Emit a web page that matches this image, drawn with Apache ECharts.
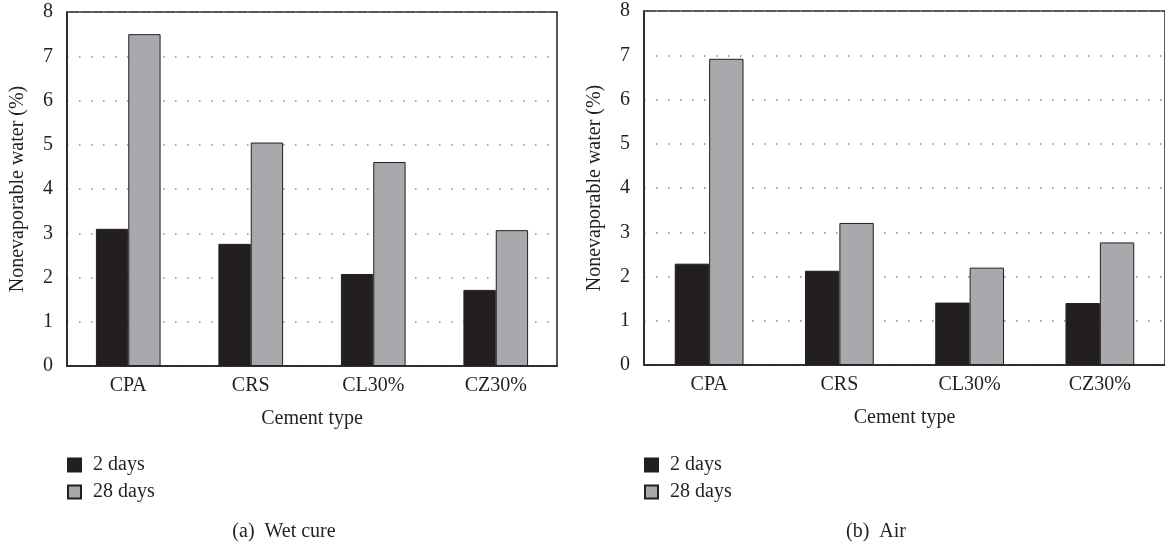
<!DOCTYPE html>
<html>
<head>
<meta charset="utf-8">
<script src="https://cdn.jsdelivr.net/npm/echarts@6/dist/echarts.min.js"></script>
<style>
html,body{margin:0;padding:0;background:#fff;}
#c{width:1165px;height:546px;}
</style>
</head>
<body>
<div id="c"></div>
<script>
var categories = ['CPA', 'CRS', 'CL30%', 'CZ30%'];
var seriesNames = ['2 days', '28 days'];
var wetCure2 = [3.10, 2.76, 2.08, 1.72];
var wetCure28 = [7.50, 5.05, 4.61, 3.07];
var air2 = [2.29, 2.13, 1.41, 1.40];
var air28 = [6.92, 3.21, 2.20, 2.77];
var yTicks = [0, 1, 2, 3, 4, 5, 6, 7, 8];
var captions = ['(a)  Wet cure', '(b)  Air'];
var xTitle = 'Cement type';
var yTitle = 'Nonevaporable water (%)';

var FONT = 'Liberation Serif';
var TXT = '#231f20';
var DARK = '#231f20';
var GRAY = '#a7a9ac';
var FS = 20;

var chart = echarts.init(document.getElementById('c'), null, {renderer: 'canvas'});

function xAx(gi) {
  return {
    type: 'category', gridIndex: gi, data: categories,
    axisLine: {show: true, lineStyle: {color: DARK, width: 1.5}},
    axisTick: {show: false},
    axisLabel: {color: TXT, fontFamily: FONT, fontSize: FS, margin: 10},
    name: xTitle, nameLocation: 'middle', nameGap: 43,
    nameTextStyle: {color: TXT, fontFamily: FONT, fontSize: FS}
  };
}
function yAx(gi) {
  return {
    type: 'value', gridIndex: gi, min: 0, max: 8, interval: 1,
    axisLine: {show: true, lineStyle: {color: DARK, width: 1.5}},
    axisTick: {show: false},
    axisLabel: {color: TXT, fontFamily: FONT, fontSize: FS, margin: 14,
      formatter: function (v) { return yTicks.indexOf(v) >= 0 ? String(v) : ''; }},
    splitLine: {show: true, lineStyle: {color: '#8a8a8a', width: 1.5, type: [1.5, 10.5]}},
    name: yTitle, nameLocation: 'middle', nameGap: 39,
    nameTextStyle: {color: TXT, fontFamily: FONT, fontSize: FS}
  };
}
function bar(name, data, gi, color) {
  return {
    type: 'bar', name: name, data: data,
    xAxisIndex: gi, yAxisIndex: gi,
    barWidth: '26.4%', barGap: '0%',
    itemStyle: {color: color, borderColor: DARK, borderWidth: 1},
    emphasis: {disabled: true}
  };
}
function legend(left) {
  return {
    data: seriesNames, orient: 'vertical', left: left, top: 455, padding: 0,
    icon: 'rect',
    itemWidth: 13, itemHeight: 13, itemGap: 7,
    textStyle: {color: TXT, fontFamily: FONT, fontSize: FS, padding: [0, 0, 0, 7]},
    selectedMode: false
  };
}

chart.setOption({
  animation: false,
  backgroundColor: '#fff',
  grid: [
    {left: 67, top: 12, width: 490, bottom: 180, show: true, borderColor: DARK, borderWidth: 1.5, containLabel: false},
    {left: 644, top: 11, width: 524, bottom: 181, show: true, borderColor: DARK, borderWidth: 1.5, containLabel: false}
  ],
  xAxis: [xAx(0), xAx(1)],
  yAxis: [yAx(0), yAx(1)],
  legend: [legend(67), legend(644)],
  title: [
    {text: captions[0], left: 284, top: 522, textAlign: 'center', padding: 0,
      textStyle: {color: TXT, fontFamily: FONT, fontSize: FS, fontWeight: 'normal'}},
    {text: captions[1], left: 876, top: 522, textAlign: 'center', padding: 0,
      textStyle: {color: TXT, fontFamily: FONT, fontSize: FS, fontWeight: 'normal'}}
  ],
  series: [
    bar(seriesNames[0], wetCure2, 0, DARK),
    bar(seriesNames[1], wetCure28, 0, GRAY),
    bar(seriesNames[0], air2, 1, DARK),
    bar(seriesNames[1], air28, 1, GRAY)
  ]
});
</script>
</body>
</html>
